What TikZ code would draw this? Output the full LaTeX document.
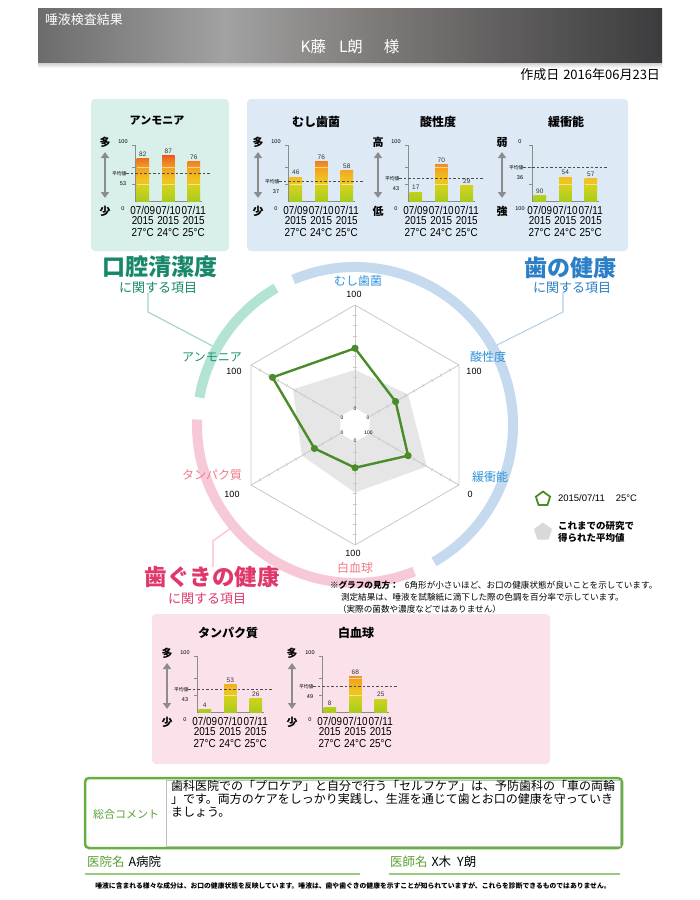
\documentclass[tikz,border=0pt]{standalone}
\usepackage{fontspec}
\setmainfont{Liberation Sans}
\newfontfamily\jp{Noto Sans CJK JP}
\newfontfamily\narrowf{Liberation Sans}[FakeStretch=0.86]
\usetikzlibrary{arrows.meta,shapes.geometric}

\definecolor{tealdk}{HTML}{17886A}
\definecolor{bluedk}{HTML}{2A7FC6}
\definecolor{pinkdk}{HTML}{E0386A}
\definecolor{tealpanel}{HTML}{D8EFEA}
\definecolor{bluepanel}{HTML}{DDE9F5}
\definecolor{pinkpanel}{HTML}{FBE2EA}
\definecolor{tealarc}{HTML}{B3E3D4}
\definecolor{bluearc}{HTML}{C6DAEF}
\definecolor{pinkarc}{HTML}{F7C8D6}
\definecolor{radgreen}{HTML}{4A8C2A}
\definecolor{gridgray}{HTML}{C9C9C9}
\definecolor{avggray}{HTML}{E6E6E6}
\definecolor{bluelbl}{HTML}{2F93DA}
\definecolor{teallbl}{HTML}{1A9273}
\definecolor{pinklbl}{HTML}{F27A8A}
\definecolor{cmtgreen}{HTML}{66B043}
\definecolor{cmttext}{HTML}{5AA032}
\definecolor{ulgreen}{HTML}{9CCB7C}
\definecolor{bzero}{HTML}{A8CC1E}
\definecolor{bone}{HTML}{CDD21C}
\definecolor{btwo}{HTML}{F2C41F}
\definecolor{bthree}{HTML}{F2A021}
\definecolor{bfour}{HTML}{EE6A1E}
\definecolor{bfive}{HTML}{E3241A}
\definecolor{hzero}{HTML}{6C6C6C}
\definecolor{hone}{HTML}{A2A2A2}
\definecolor{htwo}{HTML}{7E7A78}
\definecolor{hthree}{HTML}{3C3C3E}

\pgfdeclareverticalshading{barshade}{100bp}{color(0bp)=(bzero); color(25bp)=(bzero); color(37bp)=(bone); color(45bp)=(btwo); color(57bp)=(bthree); color(67bp)=(bfour); color(75bp)=(bfive); color(100bp)=(bfive)}
\pgfdeclarehorizontalshading{hdrshade}{100bp}{color(0bp)=(hzero); color(25bp)=(hzero); color(40bp)=(hone); color(52bp)=(htwo); color(75bp)=(hthree); color(100bp)=(hthree)}

\tikzset{
  axisln/.style={draw=black!45, line width=0.7pt},
  bigarrow/.style={draw=black!45, line width=2.2pt, {Triangle[width=8pt,length=6pt]}-{Triangle[width=8pt,length=6pt]}},
  sidechar/.style={font=\jp\bfseries\fontsize{11}{11}\selectfont},
  tinynum/.style={font=\fontsize{5.5}{6}\selectfont},
  vallbl/.style={font=\fontsize{6.5}{7}\selectfont, text=black!80},
  datelbl/.style={font=\narrowf\fontsize{11.5}{11.5}\selectfont},
  avgln/.style={draw=black!70, line width=0.6pt, dash pattern=on 2.5pt off 2pt},
  avglbl/.style={font=\jp\fontsize{4.8}{5}\selectfont},
  ctitle/.style={font=\jp\bfseries\fontsize{12}{12}\selectfont},
  gridln/.style={draw=gridgray, line width=0.8pt},
  datln/.style={draw=radgreen, line width=2.4pt, line join=round},
  rlbl/.style={font=\jp\fontsize{12}{12}\selectfont},
  rnum/.style={font=\fontsize{9}{9}\selectfont},
  innum/.style={font=\fontsize{5}{5}\selectfont},
  bigtitle/.style={font=\jp\bfseries\fontsize{23}{23}\selectfont},
  subtitle/.style={font=\jp\fontsize{13}{13}\selectfont},
  notetxt/.style={font=\jp\fontsize{8.6}{9}\selectfont, anchor=west},
}

\newcommand{\chframe}[7]{%
  \draw[axisln] (#1,#2-56) -- (#1,#2) -- (#1+67,#2);
  \foreach \kk in {17,34,56} {\draw[axisln] (#1-3,#2-\kk) -- (#1,#2-\kk);}
  \coordinate (ar#7a) at (#1-30,#2-49);
  \coordinate (ar#7b) at (#1-30,#2-3);
  \draw[bigarrow] (ar#7a) -- (ar#7b);
  \node[sidechar] (tc#7) at (#1-30,#2-59) {#3};
  \node[sidechar] (bc#7) at (#1-30,#2+10) {#4};
  \node[tinynum] (tn#7) at (#1-12,#2-59) {#5};
  \node[tinynum] (bn#7) at (#1-12,#2+8) {#6};
  \foreach \ii/\dd/\cc in {0/09/27,1/10/24,2/11/25} {
    \node[datelbl] (d#7\ii) at ({#1+7.75+25.5*\ii},#2+9) {07/\dd};
    \node[datelbl] (y#7\ii) at ({#1+7.75+25.5*\ii},#2+19.5) {2015};
    \node[datelbl] (t#7\ii) at ({#1+7.75+25.5*\ii},#2+31.5) {\cc°C};
  }
}
\newcommand{\chbar}[5]{%
  \begin{scope}
    \clip ({#1+1.5+25.5*#3},#2) rectangle ({#1+14+25.5*#3},{#2-0.52*#4});
    \shade[shading=barshade] ({#1+1.5+25.5*#3},#2) rectangle ({#1+14+25.5*#3},#2-52);
    \draw[white, opacity=0.55, line width=0.6pt] ({#1+1.5+25.5*#3},#2-17) -- ++(12.5,0);
    \draw[white, opacity=0.55, line width=0.6pt] ({#1+1.5+25.5*#3},#2-34) -- ++(12.5,0);
  \end{scope}
  \node[vallbl] (v#1x#3) at ({#1+7.75+25.5*#3},{#2-0.52*#4-4.5}) {#5};
}
\newcommand{\chavg}[4]{%
  \draw[avgln] (#1-9,{#2-0.52*#3}) -- (#1+75,{#2-0.52*#3});
  \node[avglbl, anchor=east] (a#1) at (#1-8.5,{#2-0.52*#3}) {平均値};
  \node[tinynum] (an#1) at (#1-12,{#2-0.52*#3+10}) {#4};
}

\begin{document}
\begin{tikzpicture}[x=1pt,y=-1pt, every node/.style={inner sep=0pt, outer sep=0pt}]
\useasboundingbox[fill=white] (0,0) rectangle (700,900);

% header
\shade[top color=black!22, bottom color=white] (38,62) rectangle (662,68);
\shade[shading=hdrshade] (38,8) rectangle (662,62);
\node[font=\jp\fontsize{13}{13}\selectfont, text=white, anchor=west] (hdrtitle) at (45,20) {唾液検査結果};
\node[font=\jp\fontsize{15.5}{16}\selectfont, text=white] (hdrname) at (350,47) {K藤\hspace{13pt}L朗\hspace{21pt}様};
\node[font=\jp\fontsize{13}{13}\selectfont, anchor=east] (date) at (660,75) {作成日\hspace{4pt}2016年06月23日};

% panels
\fill[tealpanel, rounded corners=4] (91,99) rectangle (229,251);
\fill[bluepanel, rounded corners=4] (247,99) rectangle (628,251);
\fill[pinkpanel, rounded corners=4] (152,614) rectangle (550,764);

% chart titles
\node[ctitle, font=\jp\bfseries\fontsize{11}{11}\selectfont] (ttlA) at (157,121) {アンモニア};
\node[ctitle] (ttlB) at (316,122) {むし歯菌};
\node[ctitle] (ttlC) at (438,122) {酸性度};
\node[ctitle] (ttlD) at (566,122) {緩衝能};
\node[ctitle] (ttlE) at (228,633) {タンパク質};
\node[ctitle] (ttlF) at (356,633) {白血球};

% chart A
\chframe{135}{201}{多}{少}{100}{0}{A}
\chbar{135}{201}{0}{82}{82}
\chbar{135}{201}{1}{87}{87}
\chbar{135}{201}{2}{76}{76}
\chavg{135}{201}{53}{53}
% chart B
\chframe{288}{201}{多}{少}{100}{0}{B}
\chbar{288}{201}{0}{46}{46}
\chbar{288}{201}{1}{76}{76}
\chbar{288}{201}{2}{58}{58}
\chavg{288}{201}{37}{37}
% chart C
\chframe{408}{201}{高}{低}{100}{0}{C}
\chbar{408}{201}{0}{17}{17}
\chbar{408}{201}{1}{70}{70}
\chbar{408}{201}{2}{29}{29}
\chavg{408}{201}{43}{43}
% chart D
\chframe{532}{201}{弱}{強}{0}{100}{D}
\chbar{532}{201}{0}{10}{90}
\chbar{532}{201}{1}{46}{54}
\chbar{532}{201}{2}{43}{57}
\chavg{532}{201}{64}{36}
% chart E
\chframe{197}{712}{多}{少}{100}{0}{E}
\chbar{197}{712}{0}{4}{4}
\chbar{197}{712}{1}{53}{53}
\chbar{197}{712}{2}{26}{26}
\chavg{197}{712}{43}{43}
% chart F
\chframe{322}{712}{多}{少}{100}{0}{F}
\chbar{322}{712}{0}{8}{8}
\chbar{322}{712}{1}{68}{68}
\chbar{322}{712}{2}{25}{25}
\chavg{322}{712}{49}{49}

% big titles
\node[bigtitle, text=tealdk] (tTitle) at (160,267) {口腔清潔度};
\node[subtitle, text=tealdk] (tSub) at (158,288) {に関する項目};
\node[bigtitle, text=bluedk] (bTitle) at (570,268) {歯の健康};
\node[subtitle, text=bluedk] (bSub) at (572,288) {に関する項目};
\node[bigtitle, font=\jp\bfseries\fontsize{22.5}{23}\selectfont, text=pinkdk] (pTitle) at (212,577) {歯ぐきの健康};
\node[subtitle, text=pinkdk] (pSub) at (207,599) {に関する項目};

% radar
\begin{scope}[shift={(355,425)}, y=1pt]
  \draw[bluearc, line width=10pt] (113:158) arc[start angle=113, end angle=-60, radius=158];
  \draw[tealarc, line width=10pt] (120:158) arc[start angle=120, end angle=170, radius=158];
  \draw[pinkarc, line width=10pt] (178:158) arc[start angle=178, end angle=292, radius=158];
  \coordinate (tl0) at (151:163);
  \coordinate (bl0) at (29.4:163);
  \coordinate (pl0) at (219.7:161);
  \fill[avggray] (90:{17+37*1.03}) -- (30:{17+43*1.03}) -- (-30:{17+64*1.03}) -- (-90:{17+49*1.03}) -- (210:{17+43*1.03}) -- (150:{17+53*1.03}) -- cycle;
  \fill[white] (90:17) -- (30:17) -- (-30:17) -- (-90:17) -- (210:17) -- (150:17) -- cycle;
  \draw[gridln] (90:120) -- (30:120) -- (-30:120) -- (-90:120) -- (210:120) -- (150:120) -- cycle;
  \foreach \aa in {90,30,-30,-90,210,150} {
    \draw[gridln] (\aa:17) -- (\aa:120);
    \foreach \kk in {1,...,9} {\draw[gridln, line width=0.6pt, rotate=\aa] ({17+10.3*\kk},-1.6) -- ++(0,3.2);}
  }
  \coordinate (dA) at (90:{17+58*1.03});
  \coordinate (dB) at (30:{17+29*1.03});
  \coordinate (dC) at (-30:{17+43*1.03});
  \coordinate (dD) at (-90:{17+25*1.03});
  \coordinate (dE) at (210:{17+29*1.03});
  \coordinate (dF) at (150:{17+76*1.03});
  \draw[datln] (dA) -- (dB) -- (dC) -- (dD) -- (dE) -- (dF) -- cycle;
  \foreach \pp in {dA,dB,dC,dD,dE,dF} {\fill[radgreen] (\pp) circle[radius=3.6];}
  \node[innum] (i1) at (90:16) {0};
  \node[innum] (i2) at (30:15) {0};
  \node[innum] (i3) at (-30:15.5) {100};
  \node[innum] (i4) at (-90:16) {0};
  \node[innum] (i5) at (210:15) {0};
  \node[innum] (i6) at (150:15) {0};
\end{scope}

% leader lines
\coordinate (tl1) at (148,312);
\coordinate (tl2) at (148,293);
\draw[tealarc!85!teallbl, line width=1.1pt] (tl0) -- (tl1) -- (tl2);
\coordinate (bl1) at (563,312);
\coordinate (bl2) at (563,293);
\draw[bluearc!85!bluelbl, line width=1.1pt] (bl0) -- (bl1) -- (bl2);
\coordinate (pl1) at (213,541);
\coordinate (pl2) at (213,567);
\draw[pinkarc!85!pinklbl, line width=1.1pt] (pl0) -- (pl1) -- (pl2);

% radar labels
\node[rlbl, text=bluelbl] (lA) at (358,281) {むし歯菌};
\node[rnum] (nA) at (354,294) {100};
\node[rlbl, text=bluelbl] (lB) at (488,357) {酸性度};
\node[rnum] (nB) at (474,371) {100};
\node[rlbl, text=bluelbl] (lC) at (490,477) {緩衝能};
\node[rnum] (nC) at (470,494) {0};
\node[rlbl, text=pinklbl] (lD) at (355,568) {白血球};
\node[rnum] (nD) at (353,553) {100};
\node[rlbl, text=pinklbl] (lE) at (212,475) {タンパク質};
\node[rnum] (nE) at (232,494) {100};
\node[rlbl, text=teallbl] (lF) at (212,357) {アンモニア};
\node[rnum] (nF) at (234,371) {100};

% legend
\node[regular polygon, regular polygon sides=5, draw=radgreen, line width=1.8pt, minimum size=15pt] (lg1) at (543,499) {};
\node[anchor=west, font=\fontsize{9.5}{10}\selectfont] (lgt1) at (558,498) {2015/07/11\hspace{11pt}25°C};
\node[regular polygon, regular polygon sides=5, fill=black!15, minimum size=19pt] (lg2) at (543,532) {};
\node[anchor=west, align=left, font=\jp\bfseries\fontsize{9.5}{11.5}\selectfont] (lgt2) at (558,532) {これまでの研究で\\得られた平均値};

% note
\node[notetxt] (note1) at (330,585) {{\bfseries ※グラフの見方：}\hspace{6pt}6角形が小さいほど、お口の健康状態が良いことを示しています。};
\node[notetxt] (note2) at (341,597) {測定結果は、唾液を試験紙に滴下した際の色調を百分率で示しています。};
\node[notetxt] (note3) at (338,609) {（実際の菌数や濃度などではありません）};

% comment box
\draw[cmtgreen, line width=2.5pt, rounded corners=4pt, fill=white] (85,778) rectangle (622,848);
\draw[black!25, line width=0.8pt] (166,780) rectangle (620.5,846.5);
\node[font=\jp\fontsize{11}{11}\selectfont, text=cmttext] (cmtlbl) at (126,814) {総合コメント};
\node[font=\jp\fontsize{12}{12}\selectfont, anchor=west] (c1) at (171,786) {歯科医院での「プロケア」と自分で行う「セルフケア」は、予防歯科の「車の両輪};
\node[font=\jp\fontsize{12}{12}\selectfont, anchor=west] (c2) at (171,799) {」です。両方のケアをしっかり実践し、生涯を通じて歯とお口の健康を守っていき};
\node[font=\jp\fontsize{12}{12}\selectfont, anchor=west] (c3) at (171,812) {ましょう。};

% signature
\node[font=\jp\fontsize{12.5}{13}\selectfont, anchor=west] (clinic) at (87,862) {\textcolor{cmttext}{医院名}\hspace{4pt}A病院};
\draw[ulgreen, line width=2pt] (85,874) -- (360,874);
\node[font=\jp\fontsize{12.5}{13}\selectfont, anchor=west] (doctor) at (390,862) {\textcolor{cmttext}{医師名}\hspace{4pt}X木\hspace{6pt}Y朗};
\draw[ulgreen, line width=2pt] (389,874) -- (620,874);
\node[font=\jp\bfseries\fontsize{6.8}{8}\selectfont] (foot) at (353,886) {唾液に含まれる様々な成分は、お口の健康状態を反映しています。唾液は、歯や歯ぐきの健康を示すことが知られていますが、これらを診断できるものではありません。};
\end{tikzpicture}
\end{document}
